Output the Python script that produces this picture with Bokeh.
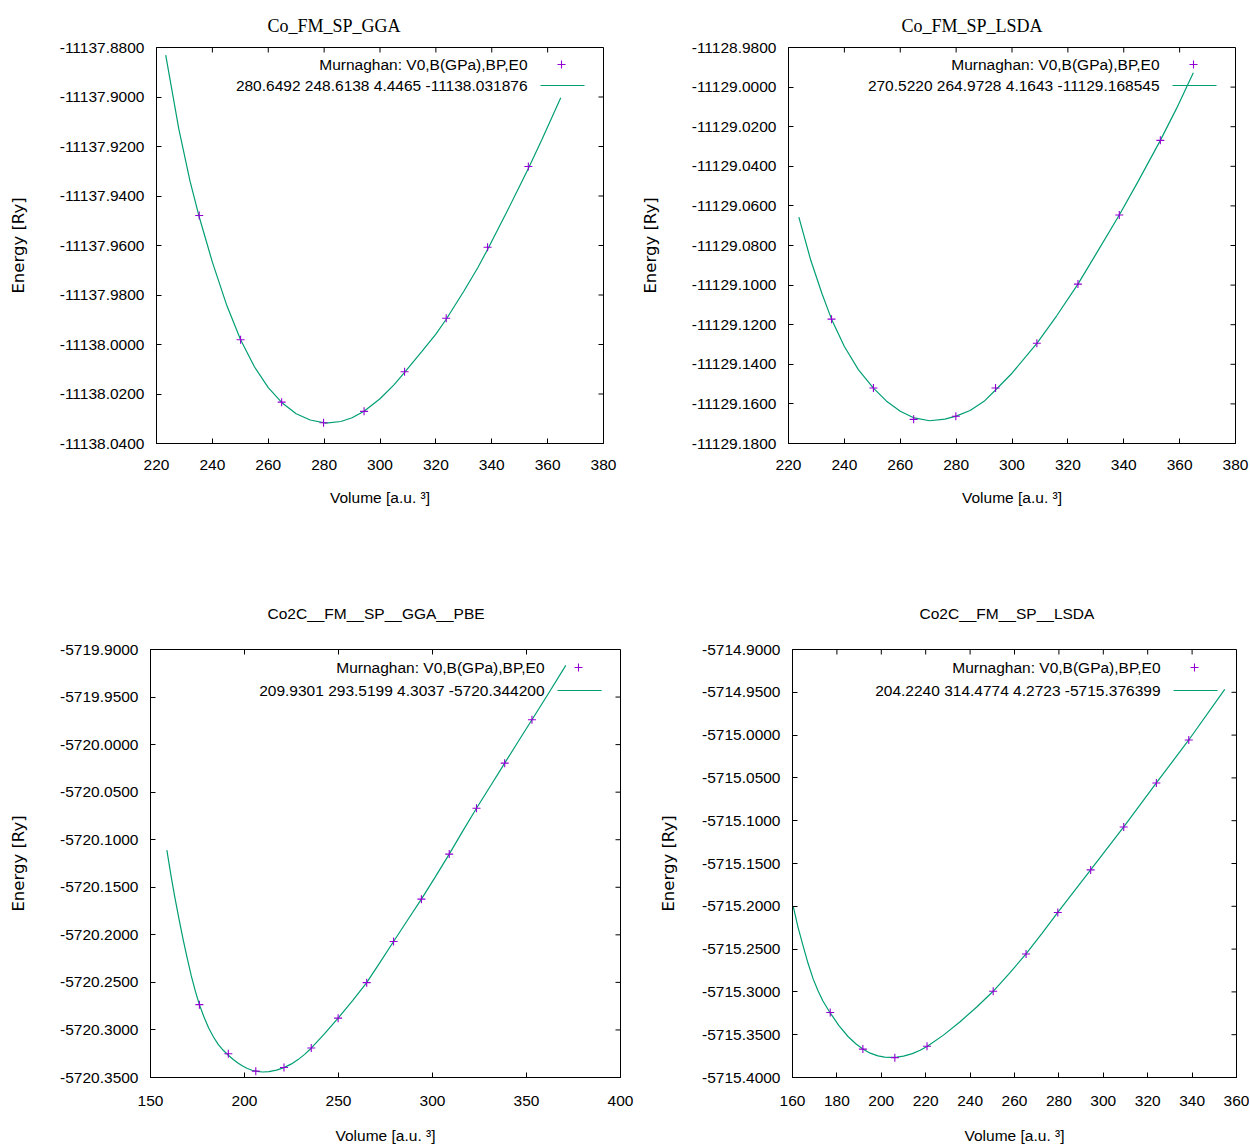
from bokeh.plotting import figure
from bokeh.models import Range1d, FixedTicker, PrintfTickFormatter, Label
from bokeh.layouts import column, row
from bokeh.embed import file_html
from bokeh.resources import INLINE

# ---------------- data ----------------
# Panel 1: Co_FM_SP_GGA
title1 = "Co_FM_SP_GGA"
fit1 = "280.6492 248.6138 4.4465 -11138.031876"
V1 = [235.3, 250.1, 264.8, 279.8, 294.3, 308.8, 323.7, 338.5, 353.1]
E1 = [-11137.9479, -11137.9981, -11138.0233, -11138.0316, -11138.0270,
      -11138.0110, -11137.9894, -11137.9607, -11137.9281]
V1c = [223.3, 228, 232, 235.3, 240, 245, 250.1, 255, 260, 264.8, 270, 275, 280.6,
       286, 290, 294.3, 300, 305, 308.8, 315, 320, 323.7, 330, 335, 338.5, 345,
       350, 353.1, 358, 364.7]
E1c = [-11137.8831, -11137.9130, -11137.9340, -11137.9485, -11137.9667, -11137.9837,
       -11137.9981, -11138.0089, -11138.0174, -11138.0234, -11138.0280, -11138.0305,
       -11138.0318, -11138.0311, -11138.0296, -11138.0270, -11138.0219, -11138.0163,
       -11138.0113, -11138.0028, -11137.9958, -11137.9898, -11137.9785, -11137.9690,
       -11137.9616, -11137.9473, -11137.9360, -11137.9289, -11137.9171, -11137.9003]
x1_ticks = [220, 240, 260, 280, 300, 320, 340, 360, 380]
y1_ticks = [-11138.04, -11138.02, -11138.00, -11137.98, -11137.96, -11137.94,
            -11137.92, -11137.90, -11137.88]

# Panel 2: Co_FM_SP_LSDA
title2 = "Co_FM_SP_LSDA"
fit2 = "270.5220 264.9728 4.1643 -11129.168545"
V2 = [235.4, 250.4, 264.8, 279.9, 294.1, 308.9, 323.6, 338.4, 353.1]
E2 = [-11129.1172, -11129.1520, -11129.1678, -11129.1662, -11129.1520,
      -11129.1294, -11129.0995, -11129.0646, -11129.0269]
V2c = [223.7, 228, 232, 235.4, 240, 245, 250.4, 255, 260, 265, 270.5, 276, 280,
       285, 290, 294.1, 300, 308.9, 316, 323.6, 330, 338.4, 345, 353.1, 359, 364.9]
E2c = [-11129.0657, -11129.0876, -11129.1044, -11129.1172, -11129.1310, -11129.1427,
       -11129.1520, -11129.1585, -11129.1637, -11129.1671, -11129.1685, -11129.1677,
       -11129.1662, -11129.1633, -11129.1587, -11129.1530, -11129.1445, -11129.1294,
       -11129.1155, -11129.0995, -11129.0845, -11129.0646, -11129.0480, -11129.0269,
       -11129.0105, -11128.9927]
x2_ticks = [220, 240, 260, 280, 300, 320, 340, 360, 380]
y2_ticks = [-11129.18, -11129.16, -11129.14, -11129.12, -11129.10, -11129.08,
            -11129.06, -11129.04, -11129.02, -11129.00, -11128.98]

# Panel 3: Co2C__FM__SP__GGA__PBE
title3 = "Co2C__FM__SP__GGA__PBE"
fit3 = "209.9301 293.5199 4.3037 -5720.344200"
V3 = [176.0, 191.4, 206.0, 221.0, 235.5, 249.8, 265.0, 279.3, 294.1, 308.9,
      323.4, 338.4, 352.9]
E3 = [-5720.2734, -5720.3250, -5720.3433, -5720.3395, -5720.3190, -5720.2876,
      -5720.2503, -5720.2070, -5720.1625, -5720.1151, -5720.0669, -5720.0195,
      -5719.9739]
V3c = [158.7, 161, 163, 165.2, 167.4, 169.5, 171.7, 174, 176, 178.5, 181, 183.5,
       186, 188.7, 191.4, 194, 196.5, 199, 201.5, 204, 206.5, 209.7, 213, 217, 221,
       225, 228.5, 232, 235.5, 242.5, 249.8, 257.5, 265, 272, 279.3, 286.7, 294.1,
       301.5, 308.9, 316, 323.4, 331, 338.4, 345.6, 352.9, 362, 370.9]
E3c = [-5720.1110, -5720.1387, -5720.1612, -5720.1837, -5720.2052, -5720.2242,
       -5720.2432, -5720.2602, -5720.2734, -5720.2867, -5720.2982, -5720.3074,
       -5720.3152, -5720.3214, -5720.3266, -5720.3310, -5720.3347, -5720.3379,
       -5720.3405, -5720.3424, -5720.3436, -5720.3442, -5720.3438, -5720.3422,
       -5720.3396, -5720.3357, -5720.3312, -5720.3257, -5720.3192, -5720.3042,
       -5720.2876, -5720.2692, -5720.2503, -5720.2292, -5720.2070, -5720.1847,
       -5720.1625, -5720.1390, -5720.1151, -5720.0912, -5720.0669, -5720.0430,
       -5720.0195, -5719.9967, -5719.9739, -5719.9452, -5719.9167]
x3_ticks = [150, 200, 250, 300, 350, 400]
y3_ticks = [-5720.35, -5720.30, -5720.25, -5720.20, -5720.15, -5720.10,
            -5720.05, -5720.00, -5719.95, -5719.90]

# Panel 4: Co2C__FM__SP__LSDA
title4 = "Co2C__FM__SP__LSDA"
fit4 = "204.2240 314.4774 4.2723 -5715.376399"
V4 = [177.0, 191.7, 206.1, 220.6, 250.4, 265.2, 279.5, 294.3, 309.2, 323.9, 338.5]
E4 = [-5715.3241, -5715.3668, -5715.3768, -5715.3635, -5715.2993, -5715.2557,
      -5715.2072, -5715.1575, -5715.1073, -5715.0559, -5715.0057]
V4c = [160.3, 162.5, 164.9, 167, 169.3, 171.5, 173.7, 177, 181, 185, 188.5, 191.7,
       195, 198.5, 201.5, 204.2, 207, 210, 214, 217.5, 220.6, 228, 235.5, 243,
       250.4, 257.8, 265.2, 272.3, 279.5, 294.3, 309.2, 323.9, 338.5, 354.7]
E4c = [-5715.1998, -5715.2246, -5715.2474, -5715.2666, -5715.2848, -5715.2986,
       -5715.3106, -5715.3246, -5715.3396, -5715.3521, -5715.3606, -5715.3666,
       -5715.3716, -5715.3748, -5715.3762, -5715.3766, -5715.3762, -5715.3750,
       -5715.3721, -5715.3682, -5715.3638, -5715.3505, -5715.3348, -5715.3176,
       -5715.2993, -5715.2781, -5715.2557, -5715.2318, -5715.2072, -5715.1575,
       -5715.1073, -5715.0559, -5715.0057, -5714.9466]
x4_ticks = [160, 180, 200, 220, 240, 260, 280, 300, 320, 340, 360]
y4_ticks = [-5715.40, -5715.35, -5715.30, -5715.25, -5715.20, -5715.15,
            -5715.10, -5715.05, -5715.00, -5714.95, -5714.90]

legend_head = "Murnaghan: V0,B(GPa),BP,E0"
xlabel = "Volume [a.u. \u00b3]"
ylabel = "Energy [Ry]"

# ---------------- styling ----------------
SANS = "Liberation Sans"
DEJAVU = "DejaVu Sans"
SERIF = "Liberation Serif"
PT_COLOR = "#9400d3"
LN_COLOR = "#009e73"
FS = "15.5px"


def panel(title, tfont, tsize, toff, tstand, xt, yt, V, E, Vc, Ec, fit,
          W, H, bl, br, bt, bb, row1, row2, xls, xlab_s, yls):
    p = figure(width=W, height=H, output_backend="svg", toolbar_location=None,
               tools="", x_range=Range1d(xt[0], xt[-1]),
               y_range=Range1d(yt[0], yt[-1]),
               min_border_left=bl, min_border_right=br,
               min_border_top=bt, min_border_bottom=bb)
    p.title.text = title
    p.title.align = "left"
    p.title.offset = toff
    p.title.standoff = tstand
    p.title.text_font = tfont
    p.title.text_font_size = tsize
    p.title.text_font_style = "normal"
    p.title.text_color = "black"
    p.outline_line_color = "black"
    p.background_fill_color = "white"
    p.border_fill_color = "white"
    p.grid.visible = False

    for ax in (p.xaxis[0], p.yaxis[0]):
        ax.major_tick_in = 5
        ax.major_tick_out = 0
        ax.minor_tick_line_color = None
        ax.axis_line_color = "black"
        ax.major_tick_line_color = "black"
        ax.major_label_text_font = SANS
        ax.major_label_text_font_size = FS
        ax.major_label_text_color = "black"
        ax.axis_label_text_font_style = "normal"
        ax.axis_label_text_color = "black"
    p.xaxis[0].ticker = FixedTicker(ticks=xt)
    p.xaxis[0].formatter = PrintfTickFormatter(format="%d")
    p.xaxis[0].axis_label = xlabel
    p.xaxis[0].axis_label_text_font = SANS
    p.xaxis[0].axis_label_text_font_size = FS
    p.xaxis[0].major_label_standoff = xls
    p.xaxis[0].axis_label_standoff = xlab_s
    p.yaxis[0].ticker = FixedTicker(ticks=yt)
    p.yaxis[0].formatter = PrintfTickFormatter(format="%.4f")
    p.yaxis[0].axis_label = ylabel
    p.yaxis[0].axis_label_text_font = DEJAVU
    p.yaxis[0].axis_label_text_font_size = "16.5px"
    p.yaxis[0].major_label_standoff = 12
    p.yaxis[0].axis_label_standoff = yls

    fw = W - bl - br
    fh = H - bt - bb
    x0, x1 = xt[0], xt[-1]
    y0, y1 = yt[0], yt[-1]
    ddx = (x1 - x0) / fw
    ddy = (y1 - y0) / fh

    # mirrored inward ticks on top and right edges (gnuplot style)
    p.segment(x0=xt, y0=[y1] * len(xt), x1=xt, y1=[y1 - 5 * ddy] * len(xt),
              line_color="black", line_width=1)
    p.segment(x0=[x1] * len(yt), y0=yt, x1=[x1 - 5 * ddx] * len(yt), y1=yt,
              line_color="black", line_width=1)

    p.line(Vc, Ec, line_color=LN_COLOR, line_width=1.2)
    p.scatter(V, E, marker="cross", size=8, line_color=PT_COLOR, line_width=1.1)

    # legend (gnuplot style, inside top right)
    for txt, r in ((legend_head, row1), (fit, row2)):
        p.add_layout(Label(x=x1 - 76 * ddx, y=y1 - r * ddy, text=txt,
                           text_align="right", text_baseline="middle",
                           text_font=SANS, text_font_size=FS, text_color="black"))
    p.scatter([x1 - 42 * ddx], [y1 - row1 * ddy], marker="cross", size=8,
              line_color=PT_COLOR, line_width=1.1)
    p.line([x1 - 63 * ddx, x1 - 19 * ddx], [y1 - row2 * ddy, y1 - row2 * ddy],
           line_color=LN_COLOR, line_width=1.2)
    return p


WL, WR = 635, 614
H1, H2 = 549, 597

p1 = panel(title1, SERIF, "18px", 111, 23, x1_ticks, y1_ticks, V1, E1, V1c, E1c, fit1,
           WL, H1, 156, 32, 47, 106, 17, 38, 16, 16, 29)
p2 = panel(title2, SERIF, "18px", 113, 23, x2_ticks, y2_ticks, V2, E2, V2c, E2c, fit2,
           WR, H1, 153, 14, 47, 106, 17, 38, 16, 16, 29)
p3 = panel(title3, SANS, "15.5px", 117, 56, x3_ticks, y3_ticks, V3, E3, V3c, E3c, fit3,
           WL, H2, 150, 15, 100, 69, 18, 41, 18, 18, 29)
p4 = panel(title4, SANS, "15.5px", 127, 56, x4_ticks, y4_ticks, V4, E4, V4c, E4c, fit4,
           WR, H2, 157, 13, 100, 69, 18, 41, 18, 18, 21)

layout = column(row(p1, p2), row(p3, p4))
open("out.html", "w").write(file_html(layout, INLINE))
